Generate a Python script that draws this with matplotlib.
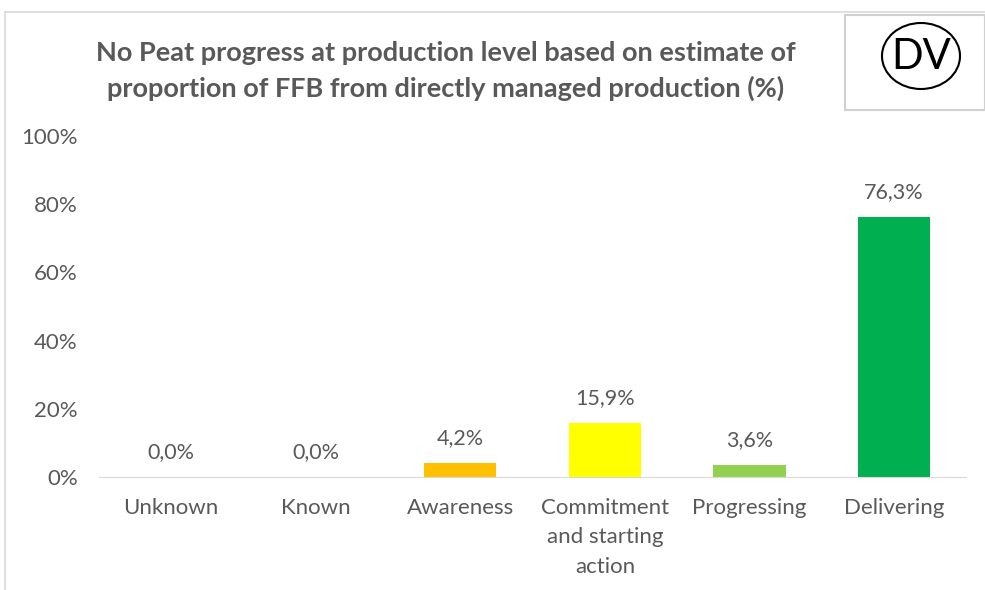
import matplotlib.pyplot as plt
from matplotlib.patches import Rectangle, Ellipse
from matplotlib.lines import Line2D

categories = ["Unknown", "Known", "Awareness", "Commitment\nand starting\naction", "Progressing", "Delivering"]
values = [0.0, 0.0, 4.2, 15.9, 3.6, 76.3]
colors = ["#FFFFFF", "#FFFFFF", "#FFC000", "#FFFF00", "#92D050", "#00B050"]
yticks = [0, 20, 40, 60, 80, 100]

plt.rcParams["font.family"] = ["Lato", "DejaVu Sans"]
txt = "#595959"

fig = plt.figure(figsize=(9.85, 5.9), dpi=100)
W, H = 985, 590
ax = fig.add_axes([98.5 / W, 1 - 477 / H, (966.5 - 98.5) / W, (477 - 136) / H])

x = range(len(categories))
ax.bar(x, values, width=0.5, color=colors)
for i, v in enumerate(values):
    ax.text(i, v + 4.3, f"{v:.1f}%".replace(".", ","), ha="center", va="bottom",
            fontsize=15.5, color=txt)

ax.set_xlim(-0.5, len(categories) - 0.5)
ax.set_ylim(0, 100)
ax.set_yticks(yticks)
ax.set_yticklabels([f"{t}%" for t in yticks], fontsize=16, color=txt)
ax.set_xticks(list(x))
ax.set_xticklabels(categories, fontsize=16, color=txt, linespacing=1.6)
ax.tick_params(axis="both", length=0)
ax.tick_params(axis="y", pad=15)
ax.tick_params(axis="x", pad=15)
for s in ["top", "right", "left"]:
    ax.spines[s].set_visible(False)
ax.spines["bottom"].set_color("#D9D9D9")
ax.set_zorder(2)

fig.text(446 / W, 1 - 71 / H,
         "No Peat progress at production level based on estimate of\nproportion of FFB from directly managed production (%)",
         ha="center", va="center", fontsize=19.5, fontweight="bold", color=txt, linespacing=1.5)

# chart border lines and DV badge
fig.add_artist(Line2D([5 / W, 5 / W], [0, 1 - 12 / H], color="#D9D9D9", lw=1.2))
fig.add_artist(Line2D([5 / W, 1], [1 - 12 / H, 1 - 12 / H], color="#D9D9D9", lw=1.2))
fig.add_artist(Rectangle((845 / W, 1 - 110 / H), 140 / W, 95 / H, fill=False,
                         edgecolor="#D0D0D0", lw=1.5))
fig.add_artist(Ellipse((921 / W, 1 - 56 / H), 78 / W, 66 / H, fill=False,
                       edgecolor="black", lw=1.5))
fig.text(921 / W, 1 - 57 / H, "DV", ha="center", va="center", fontsize=30, color="black")

fig.savefig("out.png", dpi=100)
